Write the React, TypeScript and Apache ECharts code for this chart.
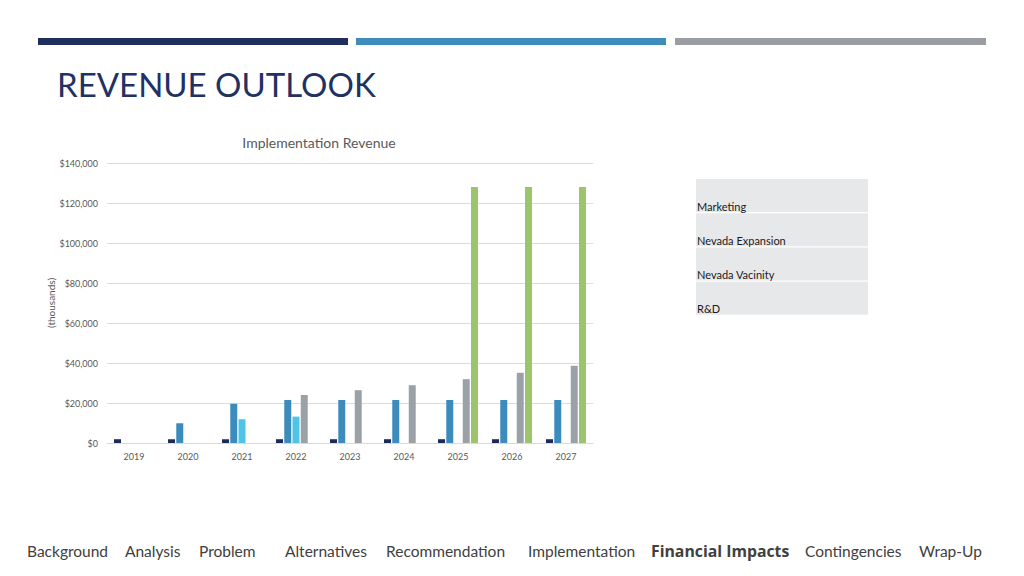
import React, { useEffect, useRef } from "react";
import * as echarts from "echarts";

const years = ["2019", "2020", "2021", "2022", "2023", "2024", "2025", "2026", "2027"];
const seriesNames = ["Marketing", "Nevada Expansion", "Nevada Vacinity", "R&D", "Series 5"];
const navyValues = [1900, 1900, 1900, 1900, 1900, 1900, 1900, 1900, 1900];
const blueValues = [0, 9900, 19600, 21500, 21500, 21500, 21500, 21500, 21500];
const cyanValues = [0, 0, 11900, 13200, 0, 0, 0, 0, 0];
const grayValues = [0, 0, 0, 24000, 26400, 28900, 31900, 35100, 38600];
const greenValues = [0, 0, 0, 0, 0, 0, 128000, 128000, 128000];
const yTicks = [0, 20000, 40000, 60000, 80000, 100000, 120000, 140000];
const navItems = ["Background", "Analysis", "Problem", "Alternatives", "Recommendation", "Implementation", "Financial Impacts", "Contingencies", "Wrap-Up"];
const navX = [27, 125, 199, 285, 386, 528, 651, 805, 919];

const colors = ["#1e2b5a", "#3b8cbd", "#4ec5e4", "#9aa2a8", "#9bc46c"];
const FONT = "Lato, 'Open Sans', sans-serif";

export default function App() {
  const ref = useRef<HTMLDivElement>(null);
  useEffect(() => {
    if (!ref.current) return;
    const chart = echarts.init(ref.current, null, { renderer: "svg" });
    const data = [navyValues, blueValues, cyanValues, grayValues, greenValues];
    const legendRows = seriesNames.slice(0, 4);
    const graphic: any[] = [
      { type: "rect", shape: { x: 38, y: 38, width: 310, height: 7 }, style: { fill: "#1e2f5e" } },
      { type: "rect", shape: { x: 356, y: 38, width: 310, height: 7 }, style: { fill: "#3f8dbd" } },
      { type: "rect", shape: { x: 675, y: 38, width: 311, height: 7 }, style: { fill: "#9a9ea2" } },
      {
        type: "text", x: 57, y: 84,
        style: { text: "REVENUE OUTLOOK", font: `400 33px ${FONT}`, fill: "#1f3263", verticalAlign: "middle" },
      },
      {
        type: "text", x: 319, y: 142,
        style: {
          text: "Implementation Revenue", font: `400 14px ${FONT}`, fill: "#595959",
          align: "center", verticalAlign: "middle",
        },
      },
    ];
    legendRows.forEach((name, i) => {
      graphic.push({
        type: "rect",
        shape: { x: 696, y: 179 + i * 34.25, width: 172, height: 33 },
        style: { fill: "#e7e8e9" },
      });
      graphic.push({
        type: "text", x: 697, y: 206 + i * 34,
        style: { text: name, font: `400 11px ${FONT}`, fill: "#1a1a1a", verticalAlign: "middle" },
      });
    });
    navItems.forEach((t, i) => {
      const bold = t === "Financial Impacts";
      graphic.push({
        type: "text", x: navX[i], y: 551,
        style: {
          text: t,
          font: bold ? `700 15.8px 'Open Sans', sans-serif` : `400 15.5px ${FONT}`,
          fill: "#404040",
          verticalAlign: "middle",
        },
      });
    });
    chart.setOption({
      animation: false,
      textStyle: { fontFamily: FONT },
      grid: { left: 107, right: 431, top: 163, bottom: 133, containLabel: false },
      xAxis: {
        type: "category",
        data: years,
        axisTick: { show: false },
        axisLine: { lineStyle: { color: "#d9d9d9" } },
        axisLabel: { fontSize: 9, color: "#595959", margin: 9 },
      },
      yAxis: {
        type: "value",
        min: yTicks[0],
        max: yTicks[yTicks.length - 1],
        interval: 20000,
        name: "(thousands)",
        nameLocation: "middle",
        nameRotate: 90,
        nameGap: 51,
        nameTextStyle: { fontSize: 10, color: "#595959" },
        axisLabel: {
          fontSize: 9, color: "#595959", margin: 9,
          formatter: (v: number) => "$" + v.toLocaleString("en-US"),
        },
        splitLine: { lineStyle: { color: "#dcdcdc" } },
      },
      series: data.map((d, i) => ({
        type: "bar",
        name: seriesNames[i],
        data: d,
        itemStyle: { color: colors[i] },
        barGap: "18%",
        barCategoryGap: "26%",
      })),
      graphic,
    });
    return () => chart.dispose();
  }, []);
  return (
    <div
      ref={ref}
      style={{ position: "absolute", left: 0, top: 0, width: 1024, height: 576, background: "#fff" }}
    />
  );
}
